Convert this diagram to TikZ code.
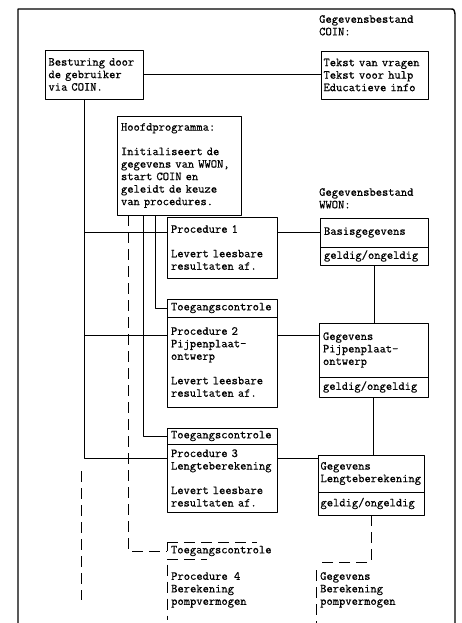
\documentclass[tikz,border=0pt]{standalone}
\usepackage{fontspec}
\newfontfamily\typewr{Latin Modern Mono}[FakeBold=0.6]
\usetikzlibrary{calc,positioning}
\newcommand{\tw}{\typewr\fontsize{12.2}{12.5}\selectfont}
\tikzset{
  box/.style={draw, line width=0.9pt, anchor=north west, inner xsep=4pt, inner ysep=2pt, outer sep=0pt, align=left, font=\tw},
  lbl/.style={anchor=north west, inner sep=0pt, align=left, font=\tw},
  link/.style={line width=0.9pt},
  gap/.style={line width=0.9pt, dash pattern=on 11pt off 6pt}
}
\begin{document}
\begin{tikzpicture}[x=1pt, y=-1pt, line join=round]
\useasboundingbox (0,0) rectangle (462,623);
% outer frame
\draw[line width=1.4pt] (18,623) -- (18,9) -- (450,9) .. controls (454,9) .. (455,14) -- (455,623);
% user control and COIN data
\node[box, text width=91pt, minimum height=49pt, inner xsep=3.5pt] (bes) at (45,50) {Besturing door\\de gebruiker\\via COIN.};
\node[lbl] (coinlbl) at (319,15) {Gegevensbestand\\COIN:};
\node[box, text width=102pt, minimum height=48pt, inner xsep=2.5pt] (coin) at (321,51) {Tekst van vragen\\Tekst voor hulp\\Educatieve info};
\node[box, text width=116pt, minimum height=99pt] (hoofd) at (117,116) {Hoofdprogramma:\\[12pt]Initialiseert de\\gegevens van WWON,\\start COIN en\\geleidt de keuze\\van procedures.};
% procedures
\node[box, text width=102pt, minimum height=61pt] (proc1) at (167,217) {Procedure 1\\[12pt]Levert leesbare\\resultaten af.};
\node[box, text width=102pt, minimum height=18pt] (toeg2) at (167,299) {Toegangscontrole};
\node[box, text width=102pt, minimum height=90pt] (proc2) at (toeg2.south west) {Procedure 2\\Pijpenplaat-\\ontwerp\\[12pt]Levert leesbare\\resultaten af.};
\node[box, text width=102pt, minimum height=16pt] (toeg3) at (167,428) {Toegangscontrole};
\node[box, text width=102pt, minimum height=68pt] (proc3) at (toeg3.south west) {Procedure 3\\Lengteberekening\\[12pt]Levert leesbare\\resultaten af.};
\node[box, draw=none, text width=102pt, minimum height=17pt, anchor=west] (toeg4) at (167,551) {Toegangscontrole};
\node[lbl] (proc4) at (171,572) {Procedure 4\\Berekening\\pompvermogen};
% WWON data
\node[lbl] (wwonlbl) at (319,188) {Gegevensbestand\\WWON:};
\node[box, text width=100pt, minimum height=29pt] (basis) at (320,218) {Basisgegevens};
\node[box, text width=100pt, minimum height=18pt] (basgeld) at (basis.south west) {geldig/ongeldig};
\node[box, text width=101pt, minimum height=54pt] (pijp) at (319,323) {Gegevens\\Pijpenplaat-\\ontwerp};
\node[box, text width=101pt, minimum height=20pt] (pijpgeld) at (pijp.south west) {geldig/ongeldig};
\node[box, text width=101pt, minimum height=37pt, inner xsep=2.5pt] (lengte) at (318,455) {Gegevens\\Lengteberekening};
\node[box, text width=101pt, minimum height=23pt, inner xsep=2.5pt] (lengeld) at (lengte.south west) {geldig/ongeldig};
\node[lbl] (pomp) at (320,572) {Gegevens\\Berekening\\pompvermogen};
% control lines
\coordinate (trunk) at ([xshift=-10pt]bes.south);
\coordinate (in1) at ([yshift=-15pt]proc1.north west);
\coordinate (in2) at ([yshift=-18pt]proc2.north west);
\coordinate (in3) at ([yshift=-14pt]proc3.north west);
\coordinate (tail) at (81,600);
\draw[link] (bes.east) -- (coin.west |- bes.east);
\draw[link] (trunk) |- (in3);
\draw[link] (trunk |- in1) -- (in1);
\draw[link] (trunk |- in2) -- (in2);
\draw[gap] ($(tail |- in3)+(0,13)$) -- (tail);
\draw[link] ([xshift=38pt]hoofd.south west) |- (toeg2.west);
\draw[link] ([xshift=26pt]hoofd.south west) |- (toeg3.west);
\draw[gap] ([xshift=11pt]hoofd.south west) |- (toeg4.west);
% open boxes at the bottom
\draw[link] (toeg4.north west) -- (toeg4.west);
\draw[gap] (toeg4.north west) -- ++(90,0);
\draw[gap] (toeg4.south west) -- ++(40,0);
\draw[gap] ([yshift=-5pt]toeg4.south west) -- ++(0,55);
% data lines
\draw[link] (proc1.east |- in1) -- (basis.west |- in1);
\draw[link] (proc2.east |- in2) -- (pijp.west |- in2);
\draw[link] (proc3.east |- in3) -- (lengte.west |- in3);
\draw[link] (basgeld.south) -- (basgeld.south |- pijp.north);
\draw[link] (pijpgeld.south) -- (pijpgeld.south |- lengte.north);
\coordinate (pompcorner) at (316,562);
\draw[gap] (lengeld.south) |- (pompcorner);
\draw[gap] ([yshift=-8pt]pompcorner) -- ++(0,53);
\end{tikzpicture}
\end{document}
